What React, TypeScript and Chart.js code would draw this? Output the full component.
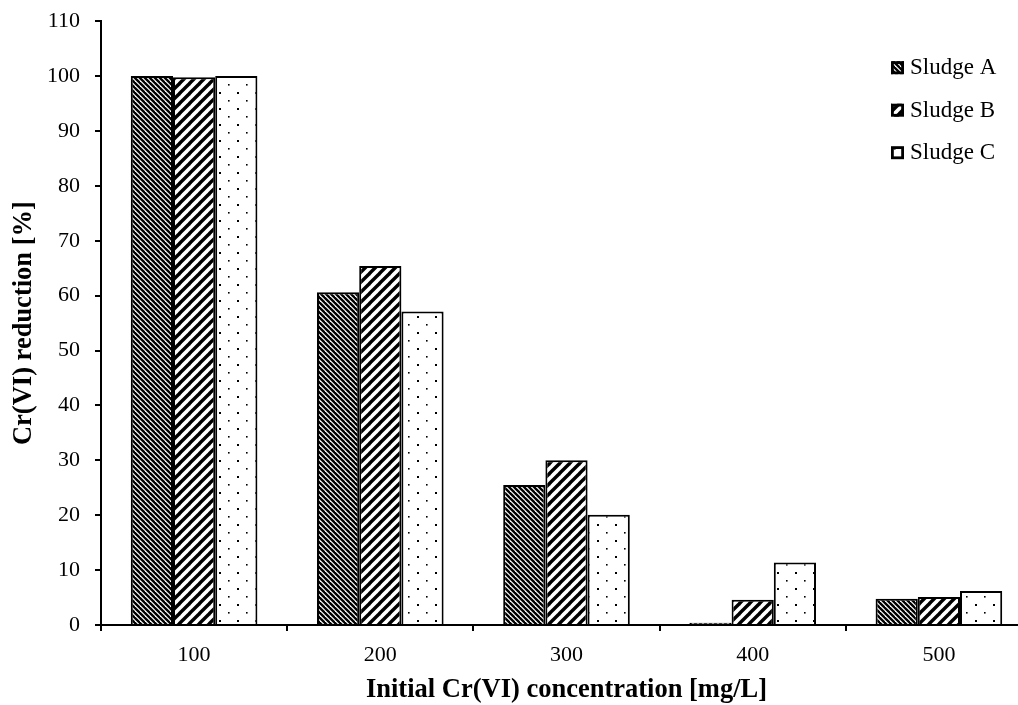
import React, { useEffect, useRef } from "react";
import { Chart, registerables } from "chart.js";

Chart.register(...registerables);

// Initial Cr(VI) concentration groups [mg/L]
const categories = ["100", "200", "300", "400", "500"];
// Cr(VI) reduction [%] per sludge
const sludgeA = [100, 60.6, 25.5, 0.4, 4.8];
const sludgeB = [99.8, 65.4, 30.0, 4.6, 5.1];
const sludgeC = [100, 57.1, 20.1, 11.4, 6.2];
const seriesNames = ["Sludge A", "Sludge B", "Sludge C"];
const yMin = 0;
const yMax = 110;
const yStep = 10;

const SERIF = "'Times New Roman', 'Liberation Serif', serif";

// Build black-and-white fill patterns for the bars
function makePattern(kind: "back" | "fwd" | "dots"): CanvasPattern | string {
  const c = document.createElement("canvas");
  let w = 5;
  let h = 5;
  if (kind === "fwd") { w = 10; h = 10; }
  if (kind === "dots") { w = 18; h = 16; }
  c.width = w;
  c.height = h;
  const g = c.getContext("2d");
  if (!g) return "#fff";
  g.fillStyle = "#fff";
  g.fillRect(0, 0, w, h);
  g.strokeStyle = "#000";
  g.fillStyle = "#000";
  if (kind === "back") {
    g.lineWidth = 2.3;
    for (let k = -1; k <= 1; k++) {
      g.beginPath();
      g.moveTo(k * w - 1, -1);
      g.lineTo(k * w + w + 1, h + 1);
      g.stroke();
    }
  } else if (kind === "fwd") {
    g.lineWidth = 3.4;
    for (let k = -1; k <= 1; k++) {
      g.beginPath();
      g.moveTo(k * w - 1, h + 1);
      g.lineTo(k * w + w + 1, -1);
      g.stroke();
    }
  } else {
    g.fillRect(3, 3, 2, 2);
    g.fillRect(12, 11, 1.6, 1.6);
  }
  const p = g.createPattern(c, "repeat");
  return p || "#fff";
}

const boxLegend = {
  id: "boxLegend",
  afterDraw(chart: any) {
    const { ctx, chartArea } = chart;
    ctx.save();
    chart.data.datasets.forEach((ds: any, i: number) => {
      const x = chartArea.right - 141;
      const y = chartArea.top + 40 + i * 42.5;
      ctx.fillStyle = ds.backgroundColor;
      ctx.fillRect(x, y, 13, 13);
      ctx.strokeStyle = "#000";
      ctx.lineWidth = 2.8;
      ctx.strokeRect(x + 1.4, y + 1.4, 10.2, 10.2);
      ctx.fillStyle = "#000";
      ctx.font = `23px ${SERIF}`;
      ctx.textAlign = "left";
      ctx.textBaseline = "middle";
      ctx.fillText(ds.label, x + 19, y + 7);
    });
    ctx.restore();
  },
};

export default function App() {
  const ref = useRef<HTMLCanvasElement | null>(null);

  useEffect(() => {
    if (!ref.current) return;
    const fills = [makePattern("back"), makePattern("fwd"), makePattern("dots")];
    const values = [sludgeA, sludgeB, sludgeC];
    const chart = new Chart(ref.current, {
      type: "bar",
      data: {
        labels: categories,
        datasets: values.map((v, i) => ({
          label: seriesNames[i],
          data: v,
          backgroundColor: fills[i] as any,
          borderColor: "#000",
          borderWidth: 2,
          categoryPercentage: 0.68,
          barPercentage: 1.0,
        })),
      },
      options: {
        animation: false,
        responsive: false,
        devicePixelRatio: 1,
        layout: { padding: { top: 0, right: 0, bottom: 0, left: 0 } },
        plugins: {
          legend: { display: false },
          tooltip: { enabled: false },
        },
        scales: {
          x: {
            offset: true,
            grid: {
              offset: true,
              drawOnChartArea: false,
              drawTicks: true,
              tickLength: 6,
              color: "#000",
              lineWidth: 2,
            },
            border: { display: true, color: "#000", width: 2 },
            ticks: {
              color: "#000",
              font: { family: SERIF, size: 22 },
              padding: 11,
              maxRotation: 0,
            },
            title: {
              display: true,
              text: "Initial Cr(VI) concentration [mg/L]",
              color: "#000",
              font: { family: SERIF, size: 26.5, weight: "bold" },
              padding: { top: 0, bottom: -1 },
            },
            afterFit: (s: any) => { s.height = 80; },
          },
          y: {
            min: yMin,
            max: yMax,
            grid: {
              drawOnChartArea: false,
              drawTicks: true,
              tickLength: 6,
              color: "#000",
              lineWidth: 2,
            },
            border: { display: true, color: "#000", width: 2 },
            ticks: {
              stepSize: yStep,
              color: "#000",
              font: { family: SERIF, size: 22 },
              padding: 15,
            },
            title: {
              display: true,
              text: "Cr(VI) reduction [%]",
              color: "#000",
              font: { family: SERIF, size: 26.5, weight: "bold" },
              padding: { top: 8, bottom: 0 },
            },
            afterFit: (s: any) => { s.width = 101; },
          },
        },
      },
      plugins: [boxLegend],
    });
    return () => chart.destroy();
  }, []);

  return (
    <div
      style={{
        position: "fixed",
        left: 0,
        top: 0,
        width: 1018,
        height: 705,
        overflow: "hidden",
        background: "#fff",
      }}
    >
      <canvas
        ref={ref}
        width={1032}
        height={712}
        style={{ width: 1032, height: 712, display: "block", marginTop: -7 }}
      />
    </div>
  );
}
